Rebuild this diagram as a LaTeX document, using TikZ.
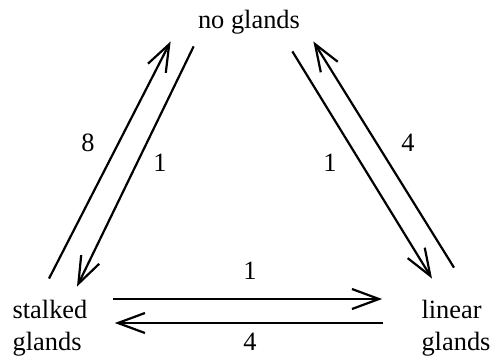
\documentclass[tikz,border=0pt]{standalone}
\usepackage{fontspec}
\setmainfont{Liberation Serif}
\usetikzlibrary{arrows.meta}
\tikzset{
  state/.style={inner sep=0pt,align=left,font=\fontsize{13.2}{16}\selectfont},
  rate/.style={inner sep=0pt,font=\fontsize{13.2}{16}\selectfont},
  trans/.style={line width=1.1pt,-{Straight Barb[length=13.5pt,width=10pt,line width=1.1pt]}}
}
\begin{document}
\begin{tikzpicture}[x=0.5pt,y=-0.5pt]
\useasboundingbox(0,0)rectangle(493,355);
\node[state](no)at(249,22){no glands};
\node[state](stalked)at(50,328){stalked\\glands};
\node[state](linear)at(456,328){linear\\glands};
% triangle sides
\draw[trans]([shift={(-1,-21)}]stalked.north)--([shift={(-27,7)}]no.south west);
\draw[trans]([shift={(-4,12)}]no.south west)--([shift={(27,-13)}]stalked.north);
\draw[trans]([shift={(-8,17)}]no.south east)--([shift={(-24,-21)}]linear.north);
\draw[trans]([shift={(-2,-32)}]linear.north)--([shift={(13,7)}]no.south east);
\draw[trans]([shift={(25,-29)}]stalked.east)--([shift={(-39,-29)}]linear.west);
\draw[trans]([shift={(-38,-5)}]linear.west)--([shift={(27,-5)}]stalked.east);
% rates
\node[rate](r8)at(88,143){8};
\node[rate](r1a)at(160,163){1};
\node[rate](r1b)at(330,163){1};
\node[rate](r4a)at(408,143){4};
\node[rate](r1c)at(250,271){1};
\node[rate](r4b)at(250,342){4};
\end{tikzpicture}
\end{document}
